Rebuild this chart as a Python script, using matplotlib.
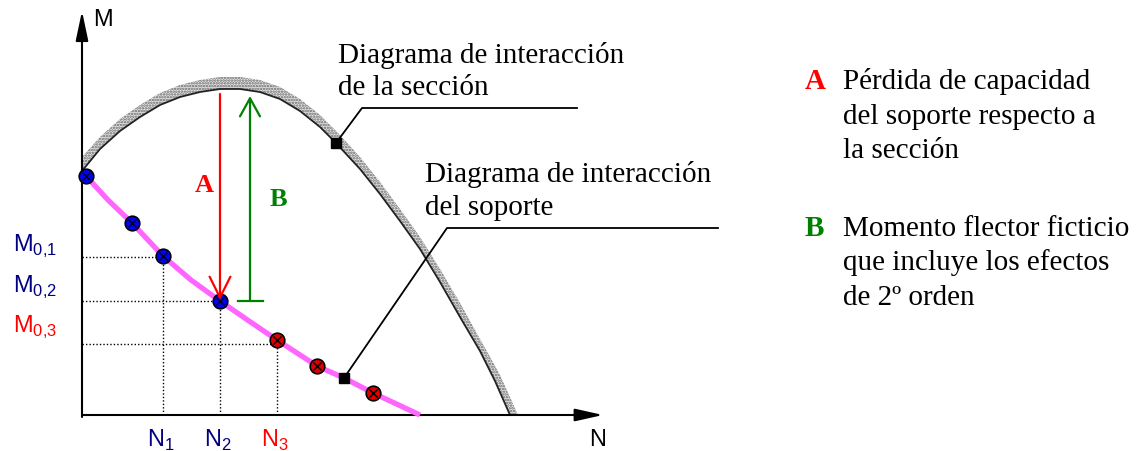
import matplotlib.pyplot as plt

# --- data (N, M measured from the origin of the diagram) ---
# interaction diagram of the section (black line) and outer edge of the shaded band
sec_N = [0, 18, 38, 58, 78, 98, 118, 138, 158, 178, 198, 218, 238, 254, 278, 298, 318, 338, 358, 378, 398, 413, 428]
sec_M = [244, 266, 284, 298, 310, 318, 323, 326, 326, 323, 316, 304, 288, 272, 246, 221, 194, 166, 133, 98, 64, 34, 0]
band_N = [0, 18, 38, 58, 78, 98, 118, 138, 158, 178, 198, 218, 238, 258, 278, 298, 318, 338, 358, 378, 398, 418, 436]
band_M = [258, 278, 296, 310, 322, 330, 335, 338, 338, 335, 328, 316, 300, 280, 258, 233, 206, 178, 146, 112, 76, 40, 0]

# interaction diagram of the column (magenta)
sop_N = [2, 4, 26, 50, 81, 109, 138, 167, 195, 235, 262, 291, 338]
sop_M = [241, 239, 215, 192, 159, 135, 114, 94, 75, 49, 37, 22, 0]

# points on the column curve
blue_N = [4, 50, 81, 138]
blue_M = [239, 192, 159, 114]
red_N = [195, 235, 291]
red_M = [75, 49, 22]

# reference values
N_ref = [81, 138, 195]
M_ref = [158, 114, 71]
N_labels = ['N$_\\mathregular{1}$', 'N$_\\mathregular{2}$', 'N$_\\mathregular{3}$']
M_labels = ['M$_\\mathregular{0{,}1}$', 'M$_\\mathregular{0{,}2}$', 'M$_\\mathregular{0{,}3}$']
ref_colors = ['#000080', '#000080', '#ff0000']

# A / B arrows
A_N, A_top, A_bot = 138, 321, 115
B_N, B_top, B_bot = 168, 319, 114

# leader lines
lead_sec_N = [254, 280, 495]
lead_sec_M = [272, 307, 307]
lead_sop_N = [262, 365, 636]
lead_sop_M = [37, 187, 187]

legend_A = ['Pérdida de capacidad', 'del soporte respecto a', 'la sección']
legend_B = ['Momento flector ficticio', 'que incluye los efectos', 'de 2º orden']

serif = 'Liberation Serif'
sans = 'Liberation Sans'

plt.rcParams['hatch.linewidth'] = 1.2

fig = plt.figure(figsize=(11.38, 4.52), dpi=100)
ax = fig.add_axes([0, 0, 1, 1])
ax.set_xlim(-82, 1056)
ax.set_ylim(-36, 416)
ax.axis('off')

# shaded band of section diagram
poly_N = sec_N + band_N[::-1]
poly_M = sec_M + band_M[::-1]
ax.fill(poly_N, poly_M, facecolor='#e4e4e4', edgecolor='#666666', hatch='......', lw=0, zorder=1)
ax.plot(sec_N, sec_M, color='#222222', lw=1.3, zorder=2)

# axes with arrows
ax.annotate('', xy=(0, 404), xytext=(0, -2),
            arrowprops=dict(arrowstyle='-|>,head_length=1.8,head_width=0.38', mutation_scale=10,
                            lw=1.5, color='black', shrinkA=0, shrinkB=0), zorder=3)
ax.annotate('', xy=(521, 0), xytext=(0, 0),
            arrowprops=dict(arrowstyle='-|>,head_length=1.7,head_width=0.38', mutation_scale=10,
                            lw=1.5, color='black', shrinkA=0, shrinkB=0), zorder=3)
ax.text(21, 396, 'M', fontsize=17, family=sans, ha='center', va='center')
ax.text(516, -24, 'N', fontsize=17, family=sans, ha='center', va='center')

# dotted reference lines
for n, m in zip(N_ref, M_ref):
    ax.plot([0, n], [m, m], color='black', ls=(0, (1, 1.5)), lw=1.0, zorder=2)
    ax.plot([n, n], [0, m], color='black', ls=(0, (1, 1.5)), lw=1.0, zorder=2)

for n, lab, c in zip(N_ref, N_labels, ref_colors):
    ax.text(n - 16, -24, lab, fontsize=17, family=sans, color=c, ha='left', va='center')
for m, lab, c in zip([170, 129, 89], M_labels, ref_colors):
    ax.text(-69, m, lab, fontsize=17, family=sans, color=c, ha='left', va='center')

# column curve
ax.plot(sop_N, sop_M, color='#ff66ff', lw=3.8, solid_capstyle='butt', solid_joinstyle='round', zorder=3)

# leader lines
ax.plot(lead_sec_N, lead_sec_M, color='black', lw=1.3, zorder=4)
ax.plot(lead_sop_N, lead_sop_M, color='black', lw=1.3, zorder=4)
ax.plot(lead_sec_N[0], lead_sec_M[0], 's', color='black', ms=7, zorder=6)
ax.plot(lead_sop_N[0], lead_sop_M[0], 's', color='black', ms=7, zorder=6)

# A arrow (red) and B arrow (green)
ax.annotate('', xy=(A_N, A_bot), xytext=(A_N, A_top),
            arrowprops=dict(arrowstyle='->,head_length=1.5,head_width=0.75', mutation_scale=10,
                            lw=1.6, color='#ff0000', shrinkA=0, shrinkB=0), zorder=7)
ax.annotate('', xy=(B_N, B_top), xytext=(B_N, B_bot),
            arrowprops=dict(arrowstyle='->,head_length=1.3,head_width=0.72', mutation_scale=10,
                            lw=1.6, color='#008000', shrinkA=0, shrinkB=0), zorder=4)
ax.plot([B_N - 12, B_N + 13], [B_bot, B_bot], color='#008000', lw=1.6, zorder=4)
ax.text(122, 231, 'A', fontsize=19, family=serif, weight='bold', color='#ff0000', ha='center', va='center')
ax.text(196, 216, 'B', fontsize=19, family=serif, weight='bold', color='#008000', ha='center', va='center')

# markers on column curve
ax.plot(blue_N, blue_M, 'o', ms=10.5, mfc='#0000ff', mec='black', mew=1.2, zorder=5)
ax.plot(blue_N, blue_M, 'x', ms=6, color='black', mew=1.0, zorder=6)
ax.plot(red_N, red_M, 'o', ms=10.5, mfc='#dd0000', mec='black', mew=1.2, zorder=5)
ax.plot(red_N, red_M, 'x', ms=6, color='black', mew=1.0, zorder=6)

# diagram titles
for i, line in enumerate(['Diagrama de interacción', 'de la sección']):
    ax.text(256, 353 - 32 * i, line, fontsize=21, family=serif, ha='left', va='baseline')
for i, line in enumerate(['Diagrama de interacción', 'del soporte']):
    ax.text(343, 234 - 33 * i, line, fontsize=21, family=serif, ha='left', va='baseline')

# legend on the right
ax.text(723, 327, 'A', fontsize=21, family=serif, weight='bold', color='#ff0000', ha='left', va='baseline')
for i, line in enumerate(legend_A):
    ax.text(761, 327 - 34.5 * i, line, fontsize=21, family=serif, ha='left', va='baseline')
ax.text(723, 180, 'B', fontsize=21, family=serif, weight='bold', color='#008000', ha='left', va='baseline')
for i, line in enumerate(legend_B):
    ax.text(761, 180 - 34.5 * i, line, fontsize=21, family=serif, ha='left', va='baseline')

fig.savefig('out.png', dpi=100)
